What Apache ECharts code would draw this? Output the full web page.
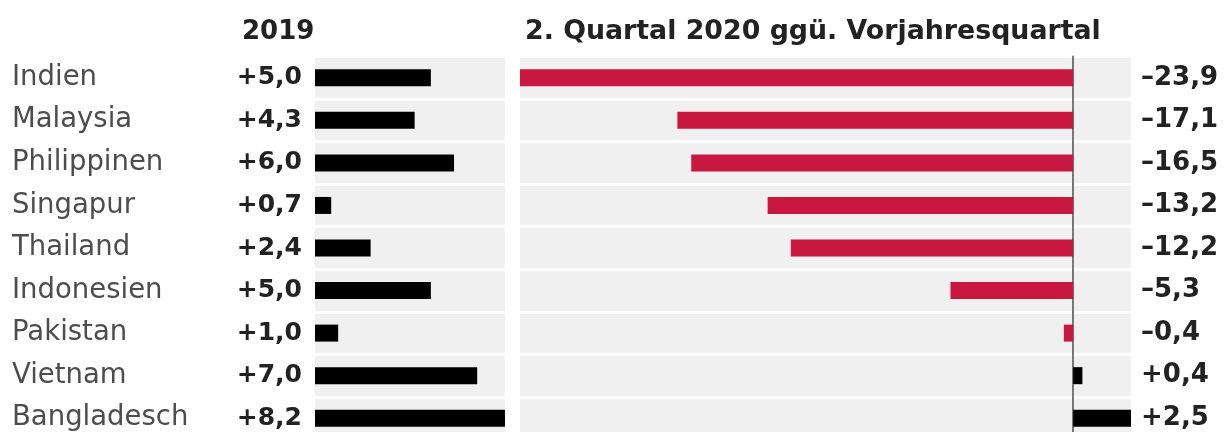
<!DOCTYPE html>
<html><head><meta charset="utf-8">
<script src="https://cdn.jsdelivr.net/npm/echarts@6/dist/echarts.min.js"></script>
<style>html,body{margin:0;padding:0;background:#fff}#c{width:1231px;height:432px}</style>
</head><body><div id="c"></div>
<script>
const countries = ['Indien','Malaysia','Philippinen','Singapur','Thailand','Indonesien','Pakistan','Vietnam','Bangladesch'];
const growth2019 = [5.0, 4.3, 6.0, 0.7, 2.4, 5.0, 1.0, 7.0, 8.2];
const growthQ2 = [-23.9, -17.1, -16.5, -13.2, -12.2, -5.3, -0.4, 0.4, 2.5];
const header2019 = '2019';
const headerQ2 = '2. Quartal 2020 ggü. Vorjahresquartal';

const fmt = v => (v < 0 ? '\u2013' : '+') + Math.abs(v).toFixed(1).replace('.', ',');
const FONT = 'DejaVu Sans';
const chart = echarts.init(document.getElementById('c'), null, {renderer:'canvas'});
const band = {show:true, areaStyle:{color:['#f0f0f0','#f0f0f0']}};
const gap = {show:true, lineStyle:{color:'#fff', width:3}};
chart.setOption({
  animation:false,
  textStyle:{fontFamily:FONT},
  title:[
    {text:header2019, left:237, top:14, textStyle:{fontFamily:FONT, fontWeight:'bold', fontSize:26, color:'#222'}},
    {text:headerQ2, left:520, top:14, textStyle:{fontFamily:FONT, fontWeight:'bold', fontSize:26.8, color:'#222'}}
  ],
  grid:[
    {left:315, width:190, top:56.5, height:383, outerBoundsMode:'none'},
    {left:520, width:611, top:56.5, height:383, outerBoundsMode:'none'}
  ],
  xAxis:[
    {gridIndex:0, type:'value', min:0, max:8.2, show:false},
    {gridIndex:1, type:'value', min:-23.9, max:2.5, show:false}
  ],
  yAxis:[
    {gridIndex:0, type:'category', data:countries, inverse:true,
     axisLine:{show:false}, axisTick:{show:false}, splitArea:band, splitLine:gap,
     axisLabel:{align:'left', margin:303, fontFamily:FONT, fontSize:27.5, color:'#4d4d4d'}},
    {gridIndex:1, type:'category', data:countries, inverse:true,
     axisLine:{show:true, onZero:true, lineStyle:{color:'#777', width:2}}, axisTick:{show:false},
     splitArea:band, splitLine:gap, axisLabel:{show:false}},
    {gridIndex:1, type:'category', data:countries, inverse:true, position:'right',
     axisLine:{show:false}, axisTick:{show:false},
     axisLabel:{align:'left', margin:10, fontFamily:FONT, fontWeight:'bold', fontSize:26, color:'#222',
       formatter:(v, i) => fmt(growthQ2[i])}}
  ],
  series:[
    {type:'bar', xAxisIndex:0, yAxisIndex:0, data:growth2019, barWidth:17,
     itemStyle:{color:'#000'},
     label:{show:true, position:'left', distance:13, formatter:p => fmt(p.value),
       fontFamily:FONT, fontWeight:'bold', fontSize:25, color:'#222'}},
    {type:'bar', xAxisIndex:1, yAxisIndex:1, barWidth:17, z:3,
     data:growthQ2.map(v => ({value:v, itemStyle:{color: v < 0 ? '#c8183f' : '#000'}}))}
  ]
});
</script></body></html>
